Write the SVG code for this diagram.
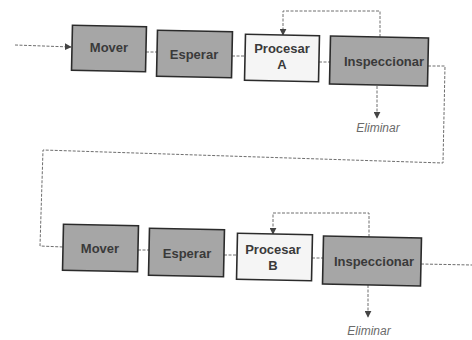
<svg xmlns="http://www.w3.org/2000/svg" width="472" height="340" viewBox="0 0 472 340">
<defs>
<marker id="ah" viewBox="0 0 10 10" refX="9" refY="5" markerWidth="7" markerHeight="7" orient="auto-start-reverse" markerUnits="userSpaceOnUse">
<path d="M0,0 L10,5 L0,10 z" fill="#444"/>
</marker>
<style>
.g{fill:#a6a6a6;stroke:#2b2b2b;stroke-width:1.6}
.w{fill:#f5f5f5;stroke:#2b2b2b;stroke-width:1.6}
.t{font-family:"Liberation Sans",Arial,sans-serif;font-size:13px;fill:#3a3a3a;text-anchor:middle;font-weight:bold}
.c{fill:none;stroke:#6e6e6e;stroke-width:1;stroke-dasharray:3 1.5}
.e{font-family:"Liberation Sans",Arial,sans-serif;font-size:12px;fill:#6a6a6a;text-anchor:middle;font-style:italic}
</style>
</defs>
<rect width="472" height="340" fill="#fff"/>
<g id="connectors">
<path class="c" d="M15,45 L71,47" marker-end="url(#ah)"/>
<path class="c" d="M146,52 L157,52"/>
<path class="c" d="M232,56 L245,56"/>
<path class="c" d="M319,62 L330,62"/>
<path class="c" d="M380,37 L380,11 L283,11 L283,35" marker-end="url(#ah)"/>
<path class="c" d="M377,86 L377,118" marker-end="url(#ah)"/>
<path class="c" d="M428,66 L445,66 L443,163 L43,150 L40,246 L63,247"/>
<path class="c" d="M138,250 L149,250"/>
<path class="c" d="M224,255 L237,255"/>
<path class="c" d="M312,258 L323,258"/>
<path class="c" d="M369,237 L369,213 L273,213 L273,234" marker-end="url(#ah)"/>
<path class="c" d="M368,285 L368,317" marker-end="url(#ah)"/>
<path class="c" d="M421,264 L472,265"/>
</g>
<g id="mover1"><rect class="g" x="72" y="26" width="74" height="45" transform="rotate(1.2 109 48)"/><text class="t" x="109" y="52">Mover</text></g>
<g id="esperar1"><rect class="g" x="157" y="31" width="75" height="46" transform="rotate(1.2 194 54)"/><text class="t" x="194" y="59">Esperar</text></g>
<g id="procesarA"><rect class="w" x="245" y="35" width="74" height="46" transform="rotate(1.2 282 58)"/><text class="t" x="282" y="53">Procesar</text><text class="t" x="282" y="69">A</text></g>
<g id="inspeccionar1"><rect class="g" x="330" y="37" width="98" height="48" transform="rotate(1.2 379 61)"/><text class="t" x="384" y="66">Inspeccionar</text></g>
<g id="eliminar1"><text class="e" x="378" y="132">Eliminar</text></g>
<g id="mover2"><rect class="g" x="63" y="225" width="75" height="46" transform="rotate(1.2 100 248)"/><text class="t" x="100" y="253">Mover</text></g>
<g id="esperar2"><rect class="g" x="149" y="229" width="75" height="47" transform="rotate(1.2 186 252)"/><text class="t" x="187" y="258">Esperar</text></g>
<g id="procesarB"><rect class="w" x="237" y="234" width="75" height="46" transform="rotate(1.2 274 257)"/><text class="t" x="273" y="254">Procesar</text><text class="t" x="273" y="270">B</text></g>
<g id="inspeccionar2"><rect class="g" x="323" y="237" width="98" height="48" transform="rotate(1.2 372 261)"/><text class="t" x="374" y="266">Inspeccionar</text></g>
<g id="eliminar2"><text class="e" x="369" y="335">Eliminar</text></g>
</svg>
